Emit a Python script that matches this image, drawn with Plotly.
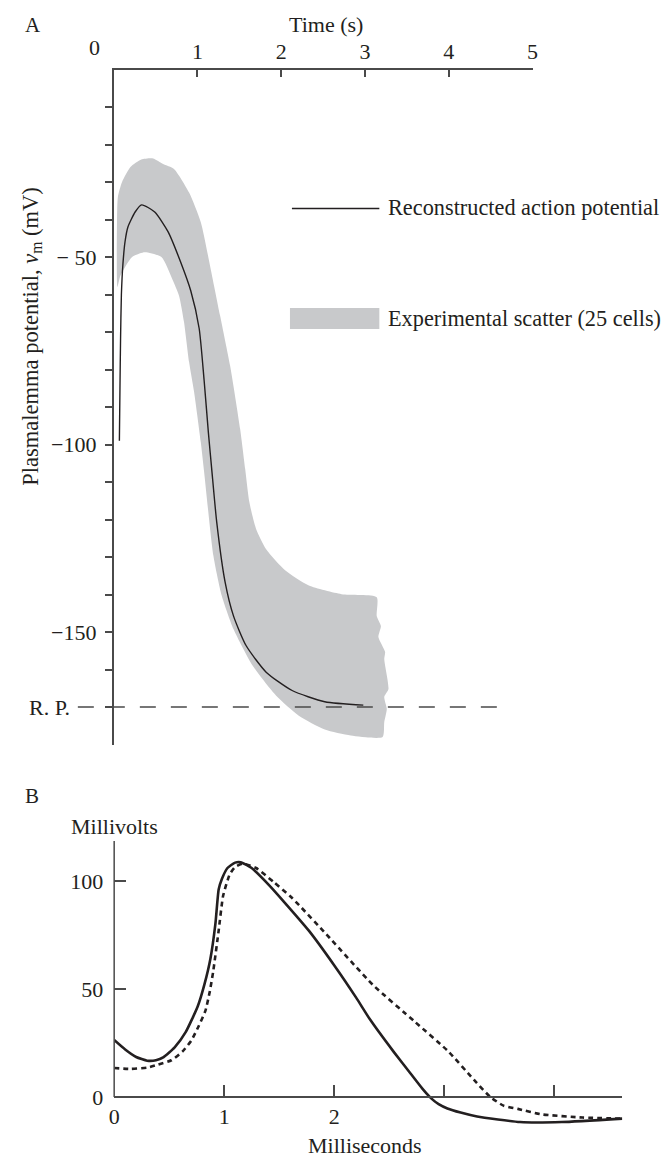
import plotly.graph_objects as go

W, H = 670, 1156
FONT = "Liberation Serif"
INK = "#231f20"
AX = "#4a4a4a"
GREY = "#c8c9cb"

# ---------------- Panel A data (time in s, potential in mV) ----------------
ap_t = [0.068, 0.075, 0.082, 0.092, 0.11, 0.135, 0.17, 0.256, 0.334, 0.49, 0.65, 0.80, 0.92, 1.02,
        1.08, 1.13, 1.17, 1.23, 1.33, 1.43, 1.58, 1.82, 2.13, 2.52, 2.98]
ap_mv = [-99, -85, -72, -60, -52, -46, -42, -38, -36.1, -38, -43.3, -51.4, -59, -69,
         -83, -96.7, -106.5, -120.7, -136.7, -145.7, -153.6, -160.7, -165.6, -168.6, -169.5]

band_upper_t = [0.04, 0.05, 0.10, 0.20, 0.33, 0.47, 0.59, 0.72, 0.90, 1.04, 1.15, 1.27,
                1.39, 1.51, 1.57, 1.62, 1.70, 1.82, 2.05, 2.33, 2.72, 3.14]
band_upper_mv = [-40, -34, -30, -26, -24, -23.7, -25.2, -26.5, -32.8, -40.7, -52.3, -65.6,
                 -79, -95.9, -106.5, -115.4, -122.5, -127.9, -133.6, -137.6, -139.9, -140.7]
band_right_t = [3.14, 3.19, 3.16, 3.24, 3.23, 3.28, 3.23, 3.26, 3.23, 3.21]
band_right_mv = [-145.7, -148.4, -151.3, -155.3, -157.2, -165.2, -167.3, -170.5, -174, -178]
band_lower_t = [2.83, 2.52, 2.21, 1.94, 1.66, 1.43, 1.29, 1.19, 1.08, 1.04, 0.96, 0.90,
                0.84, 0.78, 0.70, 0.57, 0.37, 0.22, 0.08, 0.045]
band_lower_mv = [-177.6, -176, -172.3, -167, -159, -149.2, -140.3, -129.6, -107.4, -99.4, -86, -78,
                 -67.4, -60.3, -55.9, -50, -48.7, -50, -55, -58]

rest_potential = -170
a_xticks = [1, 2, 3, 4, 5]
a_ymajor = [-150, -100, -50]
a_ylabels = ["\u2212150", "\u2212100", "\u2212 50"]
a_yminor = [v for v in range(-170, 0, 10) if v not in a_ymajor]

# ---------------- Panel B data (time in ms, mV) ----------------
solid_t = [0, 0.1, 0.2, 0.3, 0.38, 0.45, 0.55, 0.65, 0.76, 0.82, 0.875, 0.92, 0.95, 0.98,
           1.03, 1.1, 1.15, 1.25, 1.41, 1.54, 1.77, 2.0, 2.2, 2.33, 2.54, 2.70, 2.80, 2.88,
           2.95, 3.03, 3.15, 3.3, 3.69, 4.07, 4.62]
solid_mv = [26.4, 22, 18.5, 16.8, 17, 18.5, 23, 30, 42, 52, 64, 80, 96, 101,
            106, 108.5, 108.7, 106, 98, 90.6, 77, 61, 46, 35.6, 21, 10.5, 4, -0.5,
            -3.3, -5.3, -7.2, -9, -11.6, -11.6, -10]
dash_t = [0, 0.15, 0.3, 0.4, 0.52, 0.62, 0.70, 0.77, 0.83, 0.87, 0.9, 0.95, 0.99, 1.05,
          1.1, 1.17, 1.29, 1.45, 1.62, 1.96, 2.35, 2.73, 3.04, 3.27, 3.42, 3.54, 3.67,
          3.88, 4.26, 4.62]
dash_mv = [13.4, 13, 13.6, 15, 17, 21, 26, 33, 40, 49, 58, 77, 93, 103,
           106.5, 108, 106, 99.5, 92, 73.6, 52, 35, 21, 8, 0, -4, -5.5,
           -8, -9.5, -10]
b_xmajor = [0, 1, 2]
b_xminor = [3, 4]
b_yticks = [0, 50, 100]


def xp(px):
    return px / W


def yp(py):
    return 1 - py / H


# layout geometry (pixels)
A_X0, A_X1 = 101.5, 528.0   # t = 0 .. 5 s
A_Y0, A_Y1 = 61.5, 736.5    # 0 .. -180 mV
B_X0, B_X1 = 102.0, 619.4   # 0 .. 4.62 ms
B_Y0, B_Y1 = 833.0, 1121.4  # 118.5 .. -15 mV
B_ZERO = 1089.0

fig = go.Figure()

band_t = band_upper_t + band_right_t + band_lower_t + [band_upper_t[0]]
band_mv = band_upper_mv + band_right_mv + band_lower_mv + [band_upper_mv[0]]
fig.add_trace(go.Scatter(x=band_t, y=band_mv, mode="lines", fill="toself",
                         fillcolor=GREY, line=dict(width=0, color=GREY, shape="spline", smoothing=0.6),
                         xaxis="x", yaxis="y", hoverinfo="skip", showlegend=False))
fig.add_trace(go.Scatter(x=ap_t, y=ap_mv, mode="lines",
                         line=dict(color=INK, width=1.4, shape="spline", smoothing=0.6),
                         xaxis="x", yaxis="y", showlegend=False))
fig.add_trace(go.Scatter(x=solid_t, y=solid_mv, mode="lines",
                         line=dict(color=INK, width=2.6, shape="spline", smoothing=0.5),
                         xaxis="x2", yaxis="y2", showlegend=False))
fig.add_trace(go.Scatter(x=dash_t, y=dash_mv, mode="lines",
                         line=dict(color=INK, width=2.6, dash="5px,4px", shape="spline", smoothing=0.5),
                         xaxis="x2", yaxis="y2", showlegend=False))

tickfont = dict(family=FONT, size=22, color=INK)

fig.update_layout(
    width=W, height=H,
    margin=dict(l=0, r=0, t=0, b=0),
    paper_bgcolor="white", plot_bgcolor="rgba(0,0,0,0)",
    showlegend=False,
    font=dict(family=FONT, size=22, color=INK),
    xaxis=dict(domain=[xp(A_X0), xp(A_X1)], range=[0, 5], side="top", anchor="y",
               showline=True, linecolor=AX, linewidth=1.5, ticks="inside", ticklen=8,
               tickwidth=1.5, tickcolor=AX, tickvals=a_xticks, tickfont=tickfont,
               showgrid=False, zeroline=False, fixedrange=True),
    yaxis=dict(domain=[yp(A_Y1), yp(A_Y0)], range=[-180, 0], anchor="x",
               showline=True, linecolor=AX, linewidth=1.5, ticks="outside", ticklen=7,
               tickwidth=1.5, tickcolor=AX, tickvals=a_ymajor, ticktext=a_ylabels,
               tickfont=tickfont, ticklabelstandoff=4,
               minor=dict(tickvals=a_yminor, ticks="outside", ticklen=7, tickwidth=1.5,
                          tickcolor=AX, showgrid=False),
               showgrid=False, zeroline=False, fixedrange=True),
    xaxis2=dict(domain=[xp(B_X0), xp(B_X1)], range=[0, 4.62], anchor="free",
                position=yp(B_ZERO), showline=True, linecolor=AX, linewidth=1.5,
                ticks="inside", ticklen=11, tickwidth=1.5, tickcolor=AX,
                tickvals=b_xmajor, tickfont=tickfont,
                minor=dict(tickvals=b_xminor, ticks="inside", ticklen=11, tickwidth=1.5,
                           tickcolor=AX, showgrid=False),
                showgrid=False, zeroline=False, fixedrange=True),
    yaxis2=dict(domain=[yp(B_Y1), yp(B_Y0)], range=[-15, 118.5], anchor="x2",
                showline=False, ticks="inside", ticklen=12, tickwidth=1.5, tickcolor=AX,
                tickvals=b_yticks, tickfont=tickfont, ticklabelstandoff=10,
                showgrid=False, zeroline=False, fixedrange=True),
)

shapes = [
    # resting potential dashed line
    dict(type="line", xref="paper", yref="y", x0=xp(65), x1=xp(497),
         y0=rest_potential, y1=rest_potential, line=dict(color=AX, width=1.5, dash="16px,15px")),
    # panel B vertical axis (from 0 up)
    dict(type="line", xref="paper", yref="y2", x0=xp(B_X0), x1=xp(B_X0), y0=0, y1=118.5,
         line=dict(color=AX, width=1.5)),
    # legend samples
    dict(type="line", xref="paper", yref="paper", x0=xp(283), x1=xp(372), y0=yp(200.5), y1=yp(200.5),
         line=dict(color=INK, width=1.4)),
    dict(type="rect", xref="paper", yref="paper", x0=xp(281), x1=xp(372), y0=yp(300), y1=yp(321),
         fillcolor=GREY, line=dict(width=0)),
]
fig.update_layout(shapes=shapes)


def ann(text, x, y, xanchor="center", yanchor="middle", size=22, angle=0, yref="paper"):
    return dict(text=text, x=x, y=y, xref="paper", yref=yref, xanchor=xanchor, yanchor=yanchor,
                showarrow=False, textangle=angle, borderpad=0,
                font=dict(family=FONT, size=size, color=INK))


annotations = [
    ann("A", xp(19), yp(17), size=21),
    ann("Time (s)", xp(318), yp(17)),
    ann("0", xp(82), yp(40)),
    ann("Plasmalemma potential, <i>\u03bd</i><sub>m</sub> (mV)", xp(18), yp(329), angle=-90, size=22.5),
    ann("R. P.", xp(58), rest_potential, xanchor="right", yref="y"),
    ann("Reconstructed action potential", xp(380), yp(200), xanchor="left", size=22.3),
    ann("Experimental scatter (25 cells)", xp(380), yp(310), xanchor="left", size=22.3),
    ann("B", xp(18), yp(788), size=21),
    ann("Millivolts", xp(102), yp(818)),
    ann("Milliseconds", xp(357), yp(1137)),
]
fig.update_layout(annotations=annotations)

fig.write_html("out.html")
